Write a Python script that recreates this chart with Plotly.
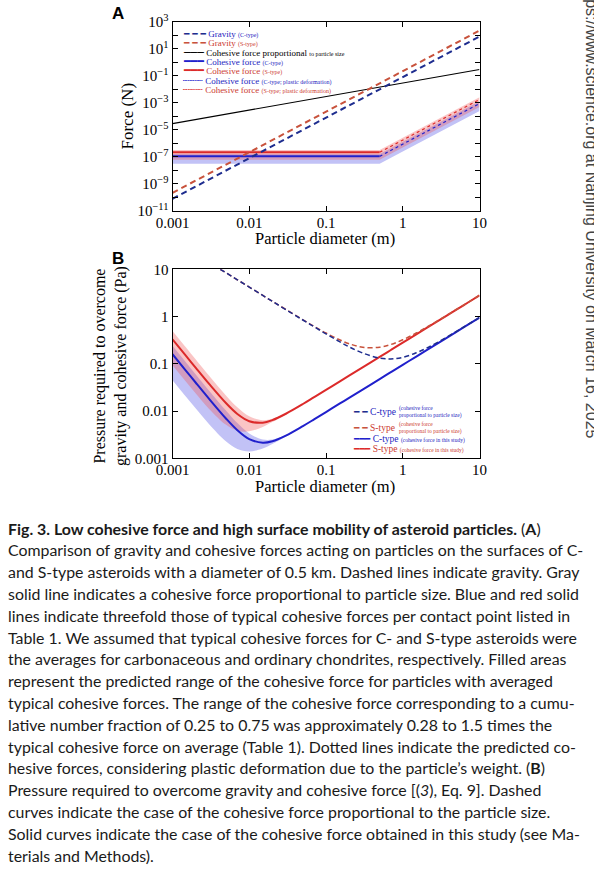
import plotly.graph_objects as go

W, H = 594, 871


def px(x):
    return x / W


def py(y):
    return 1 - y / H


# ---------------- Panel A data (force, N) ----------------
d_a = [0.001, 0.01, 0.1, 1, 10]
grav_c = [8e-11, 8e-8, 8e-5, 8e-2, 80]
grav_s = [2.2e-10, 2.2e-7, 2.2e-4, 0.22, 220]
coh_prop = [2.9e-5, 2.9e-4, 2.9e-3, 2.9e-2, 0.29]

d_flat = [0.001, 0.5]
coh_c = [1.1e-7, 1.1e-7]
coh_s = [2.2e-7, 2.2e-7]

d_plastic = [0.5, 1, 2, 5, 10]
coh_c_plastic = [1.1e-7, 8.8e-7, 7.0e-6, 1.1e-4, 8.8e-4]
coh_s_plastic = [2.2e-7, 1.76e-6, 1.4e-5, 2.2e-4, 1.76e-3]

d_band_a = [0.001, 0.5, 1, 2, 5, 10]
band_c_low_a = [3.1e-8, 3.1e-8, 2.5e-7, 2.0e-6, 3.1e-5, 2.5e-4]
band_c_high_a = [1.65e-7, 1.65e-7, 1.32e-6, 1.05e-5, 1.65e-4, 1.32e-3]
band_s_low_a = [6.2e-8, 6.2e-8, 4.9e-7, 3.9e-6, 6.2e-5, 4.9e-4]
band_s_high_a = [3.3e-7, 3.3e-7, 2.64e-6, 2.1e-5, 3.3e-4, 2.64e-3]

# ---------------- Panel B data (pressure, Pa) ----------------
d_b = [0.001, 0.0015, 0.002, 0.003, 0.005, 0.007, 0.01, 0.015, 0.02, 0.03,
       0.05, 0.07, 0.1, 0.15, 0.2, 0.3, 0.5, 0.7, 1, 1.5, 2, 3, 5, 7, 10]
p_dash_c = [42.0, 28.0, 21.0, 14.0, 8.40, 6.00, 4.20, 2.80, 2.10, 1.40,
            0.845, 0.607, 0.430, 0.294, 0.229, 0.169, 0.132, 0.127, 0.137,
            0.171, 0.211, 0.299, 0.483, 0.671, 0.954]
p_dash_s = [42.0, 28.0, 21.0, 14.0, 8.40, 6.00, 4.20, 2.80, 2.11, 1.41,
            0.854, 0.620, 0.448, 0.322, 0.266, 0.224, 0.224, 0.256, 0.322,
            0.448, 0.581, 0.854, 1.41, 1.97, 2.80]
p_solid_c = [0.160, 0.0712, 0.0402, 0.0181, 0.00688, 0.00393, 0.00255,
             0.00214, 0.00230, 0.00303, 0.00481, 0.00668, 0.00952, 0.0143,
             0.0190, 0.0285, 0.0475, 0.0665, 0.095, 0.1425, 0.19, 0.285,
             0.475, 0.665, 0.95]
p_solid_s = [0.330, 0.147, 0.0831, 0.0375, 0.0146, 0.00869, 0.0061,
             0.00567, 0.00643, 0.00877, 0.0141, 0.0197, 0.0280, 0.0420,
             0.056, 0.084, 0.14, 0.196, 0.28, 0.42, 0.56, 0.84, 1.4, 1.96,
             2.8]
d_band_b = [0.001, 0.0015, 0.002, 0.003, 0.005, 0.007, 0.01, 0.015, 0.02,
            0.03, 0.05, 0.07, 0.1]
band_c_low_b = [0.0449, 0.0200, 0.0114, 0.00527, 0.00227, 0.00158, 0.00140,
                0.00162, 0.00201, 0.00290, 0.00477, 0.00666, 0.0095]
band_c_high_b = [0.240, 0.1068, 0.0602, 0.0270, 0.0101, 0.00556, 0.00335,
                 0.00250, 0.00250, 0.00312, 0.00485, 0.0067, 0.00952]
band_s_low_b = [0.0927, 0.0415, 0.0237, 0.0111, 0.0051, 0.00384, 0.00372,
                0.00461, 0.00583, 0.0085, 0.01404, 0.01962, 0.02801]
band_s_high_b = [0.495, 0.2204, 0.1243, 0.0558, 0.0212, 0.01206, 0.00775,
                 0.0064, 0.00684, 0.00895, 0.0142, 0.0197, 0.0280]

# ---------------- ticks & texts ----------------
x_tickvals = [0.001, 0.01, 0.1, 1, 10]
x_ticktext = ["0.001", "0.01", "0.1", "1", "10"]
ya_tickvals = [1e-11, 1e-9, 1e-7, 1e-5, 1e-3, 1e-1, 1e1, 1e3]
ya_ticktext = ["10<sup>−11</sup>", "10<sup>−9</sup>", "10<sup>−7</sup>", "10<sup>−5</sup>",
               "10<sup>−3</sup>", "10<sup>−1</sup>", "10<sup>1</sup>", "10<sup>3</sup>"]
ya_minorvals = [1e-10, 1e-8, 1e-6, 1e-4, 1e-2, 1e0, 1e2]
yb_tickvals = [0.001, 0.01, 0.1, 1, 10]
yb_ticktext = ["0.001", "0.01", "0.1", "1", "10"]

legend_a_main = ["Gravity", "Gravity", "Cohesive force proportional",
                 "Cohesive force", "Cohesive force", "Cohesive force",
                 "Cohesive force"]
legend_a_small = ["(C-type)", "(S-type)", "to particle size", "(C-type)",
                  "(S-type)", "(C-type; plastic deformation)",
                  "(S-type; plastic deformation)"]
legend_b_main = ["C-type", "S-type", "C-type", "S-type"]
legend_b_small = ["(cohesive force<br>proportional to particle size)",
                  "(cohesive force<br>proportional to particle size)",
                  "(cohesive force in this study)",
                  "(cohesive force in this study)"]

caption_lines = [
    "<b>Fig. 3. Low cohesive force and high surface mobility of asteroid particles.</b> (<b>A</b>)",
    "Comparison of gravity and cohesive forces acting on particles on the surfaces of C-",
    "and S-type asteroids with a diameter of 0.5 km. Dashed lines indicate gravity. Gray",
    "solid line indicates a cohesive force proportional to particle size. Blue and red solid",
    "lines indicate threefold those of typical cohesive forces per contact point listed in",
    "Table 1. We assumed that typical cohesive forces for C- and S-type asteroids were",
    "the averages for carbonaceous and ordinary chondrites, respectively. Filled areas",
    "represent the predicted range of the cohesive force for particles with averaged",
    "typical cohesive forces. The range of the cohesive force corresponding to a cumu-",
    "lative number fraction of 0.25 to 0.75 was approximately 0.28 to 1.5 times the",
    "typical cohesive force on average (Table 1). Dotted lines indicate the predicted co-",
    "hesive forces, considering plastic deformation due to the particle’s weight. (<b>B</b>)",
    "Pressure required to overcome gravity and cohesive force [(<i>3</i>), Eq. 9]. Dashed",
    "curves indicate the case of the cohesive force proportional to the particle size.",
    "Solid curves indicate the case of the cohesive force obtained in this study (see Ma-",
    "terials and Methods).",
]
watermark = "Downloaded from https://www.science.org at Nanjing University on March 16, 2025"

# ---------------- colours ----------------
C_DASH = "#1e2d8f"
S_DASH = "#c8523c"
C_SOLID = "#2020cc"
S_SOLID = "#dc2a2a"
C_FILL = "rgba(80,80,230,0.35)"
S_FILL = "rgba(240,80,80,0.33)"
C_TXT = "#2424c0"
S_TXT = "#cc3a30"

fig = go.Figure()


def add_band(x, lo, hi, color, xa, ya, shape="linear"):
    fig.add_trace(go.Scatter(x=x, y=lo, mode="lines", line=dict(width=0, color=color, shape=shape),
                             xaxis=xa, yaxis=ya, showlegend=False, hoverinfo="skip"))
    fig.add_trace(go.Scatter(x=x, y=hi, mode="lines", line=dict(width=0, color=color, shape=shape),
                             fill="tonexty", fillcolor=color, xaxis=xa, yaxis=ya,
                             showlegend=False, hoverinfo="skip"))


def add_line(x, y, color, width, dash, xa, ya, name, shape="linear"):
    fig.add_trace(go.Scatter(x=x, y=y, mode="lines", name=name,
                             line=dict(color=color, width=width, dash=dash, shape=shape),
                             xaxis=xa, yaxis=ya, showlegend=False))


# Panel A
add_band(d_band_a, band_c_low_a, band_c_high_a, C_FILL, "x", "y")
add_band(d_band_a, band_s_low_a, band_s_high_a, S_FILL, "x", "y")
add_line(d_a, coh_prop, "black", 1.2, "solid", "x", "y", "Cohesive force proportional to particle size")
add_line(d_flat, coh_c, C_SOLID, 2, "solid", "x", "y", "Cohesive force (C-type)")
add_line(d_flat, coh_s, S_SOLID, 2, "solid", "x", "y", "Cohesive force (S-type)")
add_line(d_plastic, coh_c_plastic, C_SOLID, 1.2, "dot", "x", "y", "Cohesive force (C-type; plastic deformation)")
add_line(d_plastic, coh_s_plastic, S_SOLID, 1.2, "dot", "x", "y", "Cohesive force (S-type; plastic deformation)")
add_line(d_a, grav_s, S_DASH, 2, "6px,4px", "x", "y", "Gravity (S-type)")
add_line(d_a, grav_c, C_DASH, 2, "6px,4px", "x", "y", "Gravity (C-type)")

# Panel B
add_band(d_band_b, band_c_low_b, band_c_high_b, C_FILL, "x2", "y2", "spline")
add_band(d_band_b, band_s_low_b, band_s_high_b, S_FILL, "x2", "y2", "spline")
add_line(d_b, p_solid_c, C_SOLID, 2, "solid", "x2", "y2", "C-type (cohesive force in this study)", "spline")
add_line(d_b, p_solid_s, S_SOLID, 2, "solid", "x2", "y2", "S-type (cohesive force in this study)", "spline")
add_line(d_b, p_dash_s, S_DASH, 1.5, "5px,3px", "x2", "y2", "S-type (cohesive force proportional to particle size)", "spline")
add_line(d_b, p_dash_c, C_DASH, 1.5, "5px,3px", "x2", "y2", "C-type (cohesive force proportional to particle size)", "spline")

axis_common = dict(type="log", showline=True, linecolor="black", linewidth=1,
                   mirror="allticks", ticks="inside", ticklen=5, tickwidth=1,
                   tickcolor="black", showgrid=False, zeroline=False,
                   tickmode="array", automargin=False,
                   tickfont=dict(family="Liberation Serif", size=15, color="black"))

xdom = [px(172.5), px(479.5)]
fig.update_layout(
    width=W, height=H, margin=dict(l=0, r=0, t=0, b=0, pad=0, autoexpand=False),
    paper_bgcolor="white", plot_bgcolor="white", showlegend=False,
    xaxis=dict(axis_common, domain=xdom, range=[-3, 1], anchor="y",
               tickvals=x_tickvals, ticktext=x_ticktext, ticklabelstandoff=-2),
    yaxis=dict(axis_common, domain=[py(211), py(21.7)], range=[-11, 3], anchor="x",
               tickvals=ya_tickvals, ticktext=ya_ticktext,
               minor=dict(tickmode="array", tickvals=ya_minorvals, ticks="inside", ticklen=5,
                          tickwidth=1, tickcolor="black", showgrid=False)),
    xaxis2=dict(axis_common, domain=xdom, range=[-3, 1], anchor="y2",
                tickvals=x_tickvals, ticktext=x_ticktext, ticklabelstandoff=-2),
    yaxis2=dict(axis_common, domain=[py(458.3), py(269.3)], range=[-3, 1], anchor="x2",
                tickvals=yb_tickvals, ticktext=yb_ticktext),
)

ann = []
SERIF = "Liberation Serif"


def text(x, y, t, size, family=SERIF, color="black", xanchor="center", yanchor="middle",
         angle=0, align="left"):
    ann.append(dict(x=px(x), y=py(y), xref="paper", yref="paper", text=t, showarrow=False,
                    font=dict(family=family, size=size, color=color), xanchor=xanchor,
                    yanchor=yanchor, textangle=angle, align=align))


# panel letters
text(118, 13, "<b>A</b>", 17, family="Liberation Sans")
text(118, 258, "<b>B</b>", 17, family="Liberation Sans")
# axis titles
text(127.5, 116, "Force (N)", 17, angle=-90)
text(325, 238, "Particle diameter (m)", 16.5)
text(110, 366, "Pressure required to overcome<br>gravity and cohesive force (Pa)", 16, angle=-90,
     align="center")
text(325, 486.5, "Particle diameter (m)", 16.5)


def key(chars, color, size):
    return f'<span style="font-family:DejaVu Sans;font-size:{size}px;color:{color}">{chars}</span>'


keys_a = [key("━ ━ ━", C_DASH, 9), key("━ ━ ━", S_DASH, 9), key("───", "black", 11),
          key("━━━", C_SOLID, 11), key("━━━", S_SOLID, 11), key("┈┈┈", C_SOLID, 11),
          key("┈┈┈", S_SOLID, 11)]
txtcol_a = [C_TXT, S_TXT, "black", C_TXT, S_TXT, C_TXT, S_TXT]
ys_a = [34.3, 43.3, 52.7, 61.7, 71, 80, 89.3]
for k, m, s, c, yy in zip(keys_a, legend_a_main, legend_a_small, txtcol_a, ys_a):
    t = (f'{k} <span style="color:{c}">{m}</span> '
         f'<span style="font-size:6px;color:{c}">{s}</span>')
    text(181, yy, t, 9, xanchor="left")

keys_b = [key("━ ━", C_DASH, 9), key("━ ━", S_DASH, 9), key("━━━", C_SOLID, 9),
          key("━━━", S_SOLID, 9)]
txtcol_b = [C_TXT, S_TXT, C_TXT, S_TXT]
ys_b = [412.3, 428.3, 439.3, 449.3]
for i, (k, m, s, c, yy) in enumerate(zip(keys_b, legend_b_main, legend_b_small, txtcol_b, ys_b)):
    if i < 2:
        text(351, yy, f'{k} <span style="color:{c}">{m}</span>', 9.5, xanchor="left")
        text(397, yy, f'<span style="color:{c}">{s}</span>', 5.5, xanchor="left")
    else:
        text(351, yy, f'{k} <span style="color:{c}">{m}</span> '
                      f'<span style="font-size:5.5px;color:{c}">{s}</span>', 9.5, xanchor="left")

# caption
for i, line in enumerate(caption_lines):
    text(6, 528 + 21.8 * i, line, 15.9, family="Lato", color="#1a1a1a", xanchor="left")

# watermark on right edge (partly cut by the page edge, as in the source)
ann.append(dict(x=px(591), y=py(440), xref="paper", yref="paper", text=watermark,
                showarrow=False, textangle=90, xanchor="center", yanchor="bottom",
                font=dict(family="Liberation Sans", size=16, color="#444")))

fig.update_layout(annotations=ann)
fig.write_html("out.html", config={"displayModeBar": False},
               post_script="document.body.style.margin='0px';document.body.style.overflow='hidden';")
